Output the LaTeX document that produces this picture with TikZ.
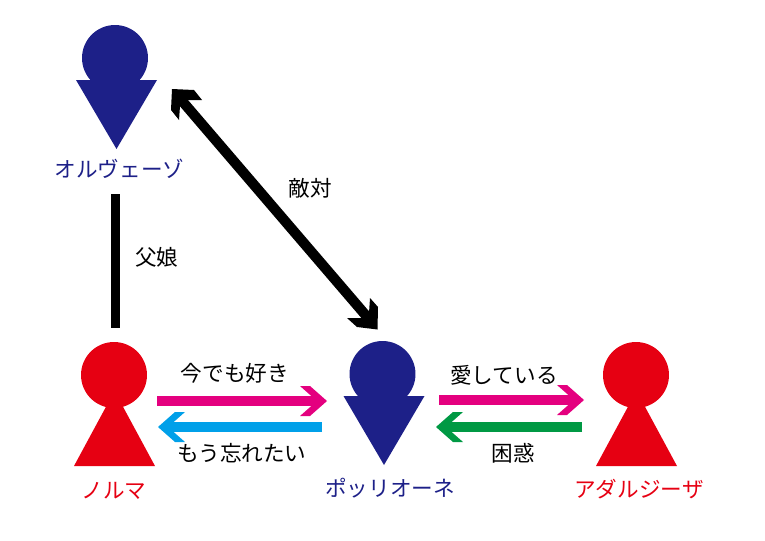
\documentclass[tikz,border=0pt]{standalone}
\usepackage{fontspec}
\setmainfont{Noto Sans CJK JP}
\definecolor{navyfig}{HTML}{1D2088}
\definecolor{redfig}{HTML}{E60012}
\definecolor{pinkline}{HTML}{E4007F}
\definecolor{cyanline}{HTML}{00A0E9}
\definecolor{greenline}{HTML}{009944}
\tikzset{
	txt/.style={font=\fontsize{12.3}{12.3}\selectfont, inner sep=0pt},
	head/.style={circle, minimum size=1.32cm, inner sep=0pt},
	link/.style={line width=5.2pt}
}
\newcommand{\personup}[3] % name, x in px, colour
{
	% triangle with its point under the head
	\fill[#3] (#2+0.5,391) -- (#2+41,466) -- (#2-40,466) -- cycle;
	\node[head, fill=#3] (#1) at (#2,375) {};
}
\newcommand{\persondown}[4] % name, x in px, y of head, colour
{
	\fill[#4] (#2-39,#3+22) -- (#2+42,#3+22) -- (#2+1.5,#3+91) -- cycle;
	\node[head, fill=#4] (#1) at (#2,#3) {};
}
\newcommand{\chevron}[3] % tip, direction (1 right, -1 left), colour
{
	\fill[#3] (#1) -- ++(-17*#2,-15) -- ++(-10*#2,0) -- ++(17*#2,15) -- ++(-17*#2,15) -- ++(10*#2,0) -- cycle;
}
\begin{document}
\begin{tikzpicture}[x=0.02cm, y=-0.02cm]
	% 765px x 541px
	\useasboundingbox (0,0) rectangle (765,541);
	\persondown{orvezo}{115}{58}{navyfig};
	\persondown{pollione}{382.5}{374}{navyfig};
	\personup{norma}{114}{redfig};
	\personup{adalgisa}{636}{redfig};

	% names
	\node[txt, text=navyfig] (orvezoname) at (119.5,169) {オルヴェーゾ};
	\node[txt, text=redfig] (normaname) at (114,491) {ノルマ};
	\node[txt, text=navyfig] (pollionename) at (390,488) {ポッリオーネ};
	\node[txt, text=redfig] (adalgisaname) at (639,489) {アダルジーザ};

	% ends of the connectors
	\coordinate (fatherA) at (115.5,194);
	\coordinate (fatherB) at (115.5,328);
	\coordinate (enemyA) at (172,89);
	\coordinate (enemyB) at (377.5,329.5);
	\coordinate (loveA) at (157,401);
	\coordinate (loveB) at (327,401);
	\coordinate (forgetA) at (322,427);
	\coordinate (forgetB) at (158,427);
	\coordinate (adoreA) at (439,400);
	\coordinate (adoreB) at (584,400);
	\coordinate (doubtA) at (582,427);
	\coordinate (doubtB) at (436,427);

	\draw[link] (fatherA) -- (fatherB);
	\draw[link, line width=5.8pt] ([shift={(11,13)}]enemyA) -- ([shift={(-9,-11)}]enemyB);
	\fill (enemyA) -- ++(22,1) -- ++(8,10) -- ++(-14,0) -- ++(-8,6) -- ++(-1,14) -- ++(-8,-10) -- cycle;
	\fill (enemyB) -- ++(0.5,-22.5) -- ++(-8,-9) -- ++(-1,15) -- ++(-6,5) -- ++(-16,0) -- ++(10,9) -- cycle;
	\draw[link, pinkline] (loveA) -- ([shift={(-8,0)}]loveB);
	\chevron{loveB}{1}{pinkline};
	\draw[link, cyanline] (forgetA) -- ([shift={(8,0)}]forgetB);
	\chevron{forgetB}{-1}{cyanline};
	\draw[link, pinkline] (adoreA) -- ([shift={(-8,0)}]adoreB);
	\chevron{adoreB}{1}{pinkline};
	\draw[link, greenline] (doubtA) -- ([shift={(8,0)}]doubtB);
	\chevron{doubtB}{-1}{greenline};

	% connector labels
	\node[txt] (fatherlabel) at (157,257) {父娘};
	\node[txt] (enemylabel) at (310,188.5) {敵対};
	\node[txt] (lovelabel) at (235,373) {今でも好き};
	\node[txt] (forgetlabel) at (242,453) {もう忘れたい};
	\node[txt] (adorelabel) at (504,375) {愛している};
	\node[txt] (doubtlabel) at (513,453) {困惑};
\end{tikzpicture}
\end{document}
